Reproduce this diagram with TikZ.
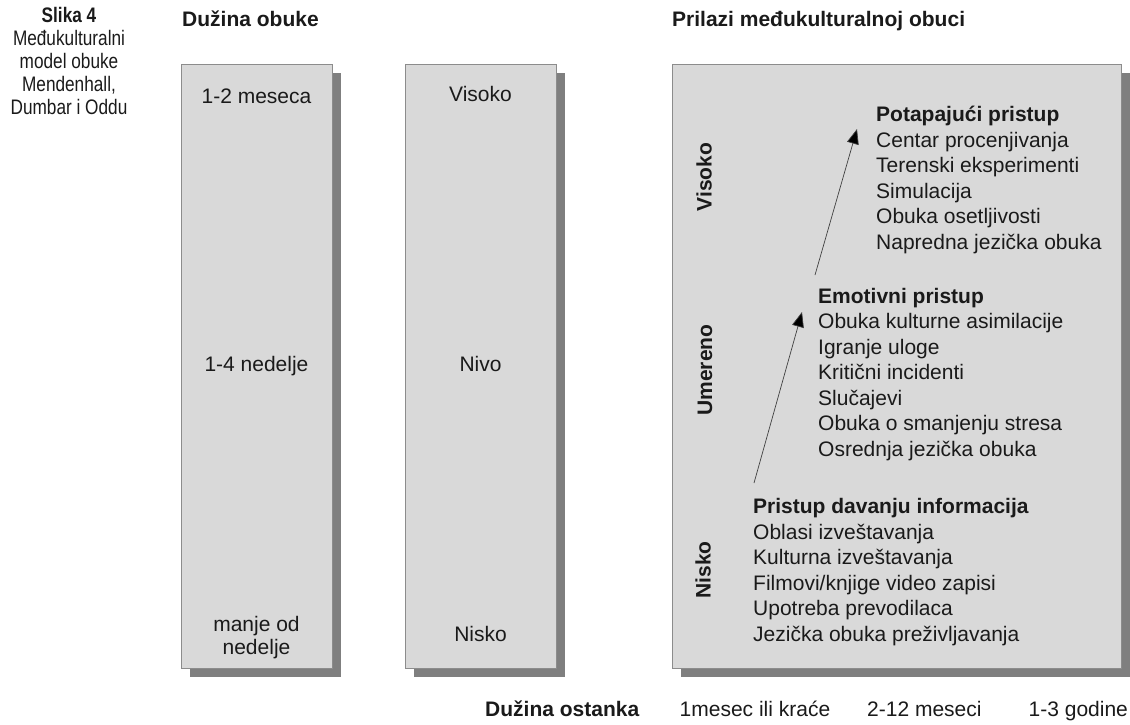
\documentclass[tikz,border=0pt]{standalone}
\usepackage{fontspec}
\setmainfont{Liberation Sans}
\newfontfamily\narrowfont[FakeStretch=0.82]{Liberation Sans}
\usetikzlibrary{shadows,arrows.meta}
\definecolor{boxfill}{HTML}{D9D9D9}
\definecolor{boxline}{HTML}{8C8C8C}
\definecolor{shade}{HTML}{7F7F7F}
\definecolor{ink}{HTML}{1A1A1A}
\definecolor{arrowline}{HTML}{404040}
\tikzset{
  panel/.style={draw=boxline, fill=boxfill, line width=1pt, inner sep=0pt,
    drop shadow={shadow xshift=8pt, shadow yshift=-8pt, fill=shade, opacity=1}},
  txt/.style={inner sep=0pt, text=ink, font=\fontsize{21}{25.5}\selectfont},
  btxt/.style={txt, font=\fontsize{21}{25.5}\selectfont\bfseries},
  captxt/.style={inner sep=0pt, text=ink, font=\fontsize{21}{23}\selectfont\narrowfont},
  sidelbl/.style={btxt, rotate=90},
  uparrow/.style={draw=arrowline, line width=0.7pt, -{Triangle[length=15pt,width=12pt,fill=black]}}
}
\begin{document}
\begin{tikzpicture}[x=1pt,y=-1pt]
\useasboundingbox (0,0) rectangle (1130,724);
% caption
\node[captxt, font=\fontsize{21}{23}\selectfont\narrowfont\bfseries, anchor=base] (c1) at (69,22.5) {Slika 4};
\node[captxt, anchor=base] (c2) at (69,45.5) {Međukulturalni};
\node[captxt, anchor=base] (c3) at (69,68.5) {model obuke};
\node[captxt, anchor=base] (c4) at (69,91.5) {Mendenhall,};
\node[captxt, anchor=base] (c5) at (69,114.5) {Dumbar i Oddu};
% headings
\node[btxt, anchor=base west] (h1) at (182,26) {Dužina obuke};
\node[btxt, anchor=base west] (h2) at (672,26) {Prilazi međukulturalnoj obuci};
% boxes
\node[panel, minimum width=151pt, minimum height=604pt, anchor=north west] (b1) at (181,64) {};
\node[panel, minimum width=151pt, minimum height=604pt, anchor=north west] (b2) at (405,64) {};
\node[panel, minimum width=449pt, minimum height=604pt, anchor=north west] (b3) at (672,64) {};
% box 1 texts
\node[txt, anchor=base] (d1) at (256.5,103) {1-2 meseca};
\node[txt, anchor=base] (d2) at (256.5,371.5) {1-4 nedelje};
\node[txt, anchor=base] (d3) at (256.5,631.5) {manje od};
\node[txt, anchor=base] (d4) at (256.5,654.5) {nedelje};
% box 2 texts
\node[txt, anchor=base] (n1) at (480.5,101.5) {Visoko};
\node[txt, anchor=base] (n2) at (480.5,371) {Nivo};
\node[txt, anchor=base] (n3) at (480.5,641.5) {Nisko};
% side labels
\node[sidelbl] (l1) at (704,177) {Visoko};
\node[sidelbl] (l2) at (705,370) {Umereno};
\node[sidelbl] (l3) at (703,570) {Nisko};
% section 1
\node[btxt, anchor=base west] (s1h) at (876,121.5) {Potapajući pristup};
\foreach \t [count=\i] in {Centar procenjivanja,Terenski eksperimenti,Simulacija,Obuka osetljivosti,Napredna jezička obuka}
  \node[txt, anchor=base west] (s1-\i) at (876,121.5+25.5*\i) {\t};
% section 2
\node[btxt, anchor=base west] (s2h) at (818,303.3) {Emotivni pristup};
\foreach \t [count=\i] in {Obuka kulturne asimilacije,Igranje uloge,Kritični incidenti,Slučajevi,Obuka o smanjenju stresa,Osrednja jezička obuka}
  \node[txt, anchor=base west] (s2-\i) at (818,303.3+25.5*\i) {\t};
% section 3
\node[btxt, anchor=base west] (s3h) at (753,513.5) {Pristup davanju informacija};
\foreach \t [count=\i] in {Oblasi izveštavanja,Kulturna izveštavanja,Filmovi/knjige video zapisi,Upotreba prevodilaca,Jezička obuka preživljavanja}
  \node[txt, anchor=base west] (s3-\i) at (753,513.5+25.5*\i) {\t};
% arrows
\coordinate (a1s) at (815,275);
\coordinate (a1e) at (857,129);
\coordinate (a2s) at (754,483);
\coordinate (a2e) at (802,312);
\draw[uparrow] (a1s) -- (a1e);
\draw[uparrow] (a2s) -- (a2e);
% bottom row
\node[btxt, anchor=base west] (f0) at (485,716) {Dužina ostanka};
\node[txt, anchor=base west] (f1) at (679.5,716) {1mesec ili kraće};
\node[txt, anchor=base west] (f2) at (867,716) {2-12 meseci};
\node[txt, anchor=base west] (f3) at (1028.5,716) {1-3 godine};
\end{tikzpicture}
\end{document}
